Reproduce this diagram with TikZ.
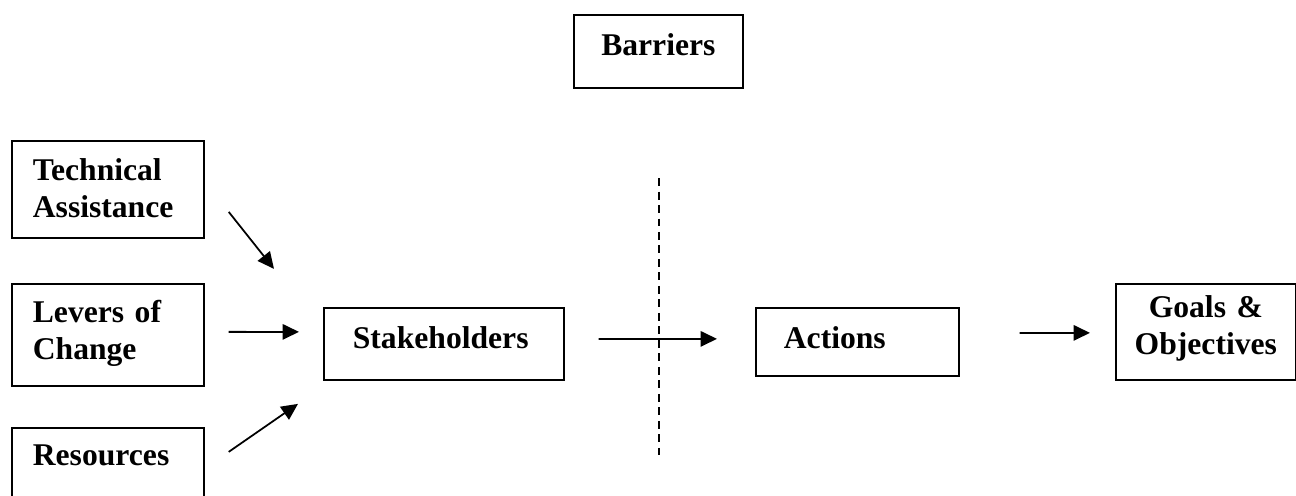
\documentclass[tikz,border=0pt]{standalone}
\usepackage{fontspec}
\setmainfont{Liberation Serif}
\usetikzlibrary{arrows.meta, positioning, calc}
\tikzset{
    block/.style={
        rectangle,
        draw=black,
        line width=1pt,
        anchor=north west,
        inner sep=0pt,
        font=\bfseries\fontsize{18}{21}\selectfont,
    },
    flow/.style={
        -{Triangle[length=0.33cm, width=0.31cm]},
        line width=1pt,
    },
    cut/.style={
        line width=1pt,
        dash pattern=on 0.16cm off 0.11cm,
    },
}

\begin{document}
\begin{tikzpicture}[x=0.02cm, y=-0.02cm]
      \useasboundingbox (0,0) rectangle (1296,495);

      \node[block, minimum width=3.38cm, text height=0.82cm, text depth=0.64cm] (barriers) at (573,14) {Barriers};

      \node[block, minimum width=3.84cm, text width=3.0cm, align=left, text height=0.8cm, text depth=1.14cm] (techassist) at (11,140) {Technical\\Assistance};
      \node[block, minimum width=3.84cm, text width=3.0cm, align=left, text height=0.78cm, text depth=1.26cm] (levers) at (11,283) {Levers of\\Change};
      \node[block, minimum width=3.84cm, text width=3.0cm, align=left, text height=0.76cm, text depth=1.3cm] (resources) at (11,427) {Resources};

      \node[block, minimum width=4.8cm, text width=3.64cm, align=left, text height=0.82cm, text depth=0.62cm] (stakeholders) at (323,307) {Stakeholders};
      \node[block, minimum width=4.06cm, text width=2.94cm, align=left, text height=0.82cm, text depth=0.54cm] (actions) at (755,307) {Actions};
      \node[block, minimum width=3.6cm, text width=3.0cm, align=center, text height=0.68cm, text depth=1.24cm] (goals) at (1115,283) {Goals \&\\Objectives};

      % line of the barriers
      \coordinate (cuttop) at (659,178);
      \coordinate (cutbot) at (659,455);
      \draw[cut] (cuttop) -- (cutbot);

      \draw[flow] ($(techassist.east)+(24,22.5)$) -- ($(stakeholders.west)+(-49,-75)$);
      \draw[flow] ($(levers.east)+(24,-3)$) -- ($(stakeholders.west)+(-24,-12)$);
      \draw[flow] ($(resources.east)+(24,-27.5)$) -- ($(stakeholders.west)+(-25,60)$);

      \draw[flow] ($(stakeholders.east)+(34,-5)$) -- ($(actions.west)+(-38,-3)$);
      \draw[flow] ($(actions.east)+(60,-9)$) -- ($(goals.west)+(-25,1)$);

    \end{tikzpicture}
\end{document}
